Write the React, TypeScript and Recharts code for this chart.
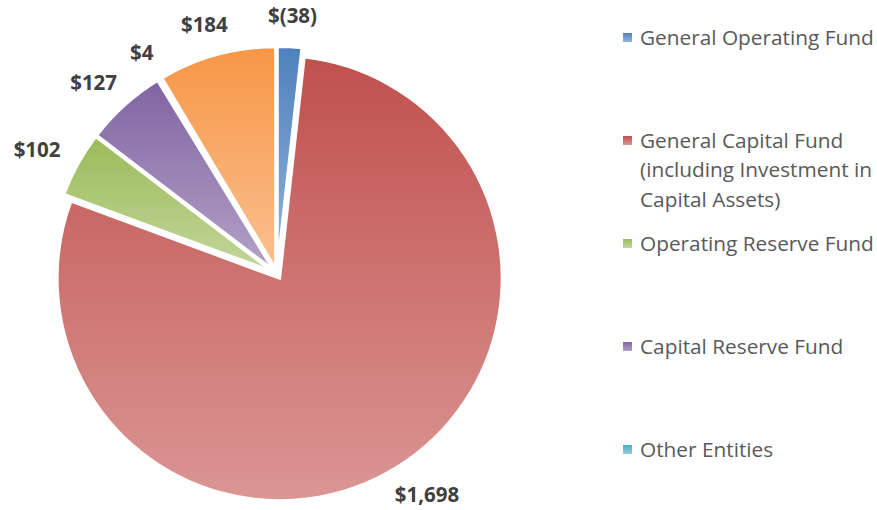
import React from "react"
import { PieChart, Pie, Cell, Legend } from "recharts"

// fund balances (in $ thousands); negative shown in parentheses
const funds = [
  "General Operating Fund",
  "General Capital Fund (including Investment in Capital Assets)",
  "Operating Reserve Fund",
  "Capital Reserve Fund",
  "Other Entities",
  "Other Funds",
]
const balances = [-38, 1698, 102, 127, 4, 184]

// the legend in the source only shows the first five entries
const legendCount = 5

const topColors = ["#4F81BD", "#C0504D", "#9BBB59", "#8064A2", "#4BACC6", "#F79646"]
const bottomColors = ["#95B3D7", "#DA9694", "#C3D69B", "#B3A2C7", "#93CDDD", "#FAC090"]

const FONT = "'Open Sans', sans-serif"
const RADIAN = Math.PI / 180
const CX = 277
const CY = 274
const RADIUS = 222.5
const EXPLODE = 5
const LABEL_R = 245

const pieData = funds.map((name, i) => ({ name, amount: balances[i], size: Math.abs(balances[i]) }))

// mid angle of each slice (recharts convention, starting at 12 o'clock going clockwise)
const total = pieData.reduce((s, d) => s + d.size, 0)
let acc = 0
const midAngles = pieData.map((d) => {
  const mid = 90 - ((acc + d.size / 2) / total) * 360
  acc += d.size
  return mid
})
const offsets = midAngles.map((a) => ({
  dx: EXPLODE * Math.cos(a * RADIAN),
  dy: -EXPLODE * Math.sin(a * RADIAN),
}))

const money = (v: number) =>
  v < 0 ? `$(${Math.abs(v).toLocaleString("en-US")})` : `$${v.toLocaleString("en-US")}`

const renderLabel = (props: any) => {
  const { cx, cy, midAngle, index } = props
  const text = money(balances[index])
  const cos = Math.cos(-midAngle * RADIAN)
  const sin = Math.sin(-midAngle * RADIAN)
  const w = text.length * 0.58 * 20.5
  const h = 18
  const x = cx + offsets[index].dx + LABEL_R * cos + (cos * w) / 2
  const y = cy + offsets[index].dy + LABEL_R * sin + (sin * h) / 2
  return (
    <text
      x={x}
      y={y}
      textAnchor="middle"
      dominantBaseline="central"
      fill="#404040"
      fontSize={20.5}
      fontWeight="bold"
      fontFamily={FONT}
    >
      {text}
    </text>
  )
}

// legend keeps data order (recharts would sort it by name)
function FundLegend() {
  return (
    <ul
      style={{
        listStyle: "none",
        margin: 0,
        padding: 0,
        fontFamily: FONT,
        fontSize: 20.8,
        lineHeight: "29.5px",
        color: "#595959",
        textAlign: "left",
      }}
    >
      {funds.slice(0, legendCount).map((name, i) => (
        <li key={name} style={{ position: "relative", height: 103, paddingLeft: 17 }}>
          <svg width={9} height={9} style={{ position: "absolute", left: 0, top: 10 }}>
            <rect width={9} height={9} fill={`url(#fundGrad${i})`} />
          </svg>
          {name}
        </li>
      ))}
    </ul>
  )
}

export default function App() {
  return (
    <div style={{ position: "absolute", left: 0, top: 0, width: 877, height: 510, overflow: "hidden", background: "#fff" }}>
      <PieChart width={877} height={510} margin={{ top: 0, right: 0, bottom: 0, left: 0 }}>
        <defs>
          {topColors.map((c, i) => (
            <linearGradient key={c} id={`fundGrad${i}`} x1="0" y1="0" x2="0" y2="1">
              <stop offset="0%" stopColor={c} />
              <stop offset="100%" stopColor={bottomColors[i]} />
            </linearGradient>
          ))}
        </defs>
        <Pie
          data={pieData}
          dataKey="size"
          nameKey="name"
          cx={CX}
          cy={CY}
          outerRadius={RADIUS}
          startAngle={90}
          endAngle={-270}
          stroke="#fff"
          strokeWidth={3}
          label={renderLabel}
          labelLine={false}
          isAnimationActive={false}
        >
          {pieData.map((d, i) => (
            <Cell
              key={d.name}
              fill={`url(#fundGrad${i})`}
              transform={`translate(${offsets[i].dx}, ${offsets[i].dy})`}
              style={{ transform: `translate(${offsets[i].dx}px, ${offsets[i].dy}px)` }}
            />
          ))}
        </Pie>
        <Legend
          layout="vertical"
          align="right"
          verticalAlign="top"
          content={<FundLegend />}
          wrapperStyle={{ left: 623, top: 22.6, width: 254 }}
        />
      </PieChart>
    </div>
  )
}
